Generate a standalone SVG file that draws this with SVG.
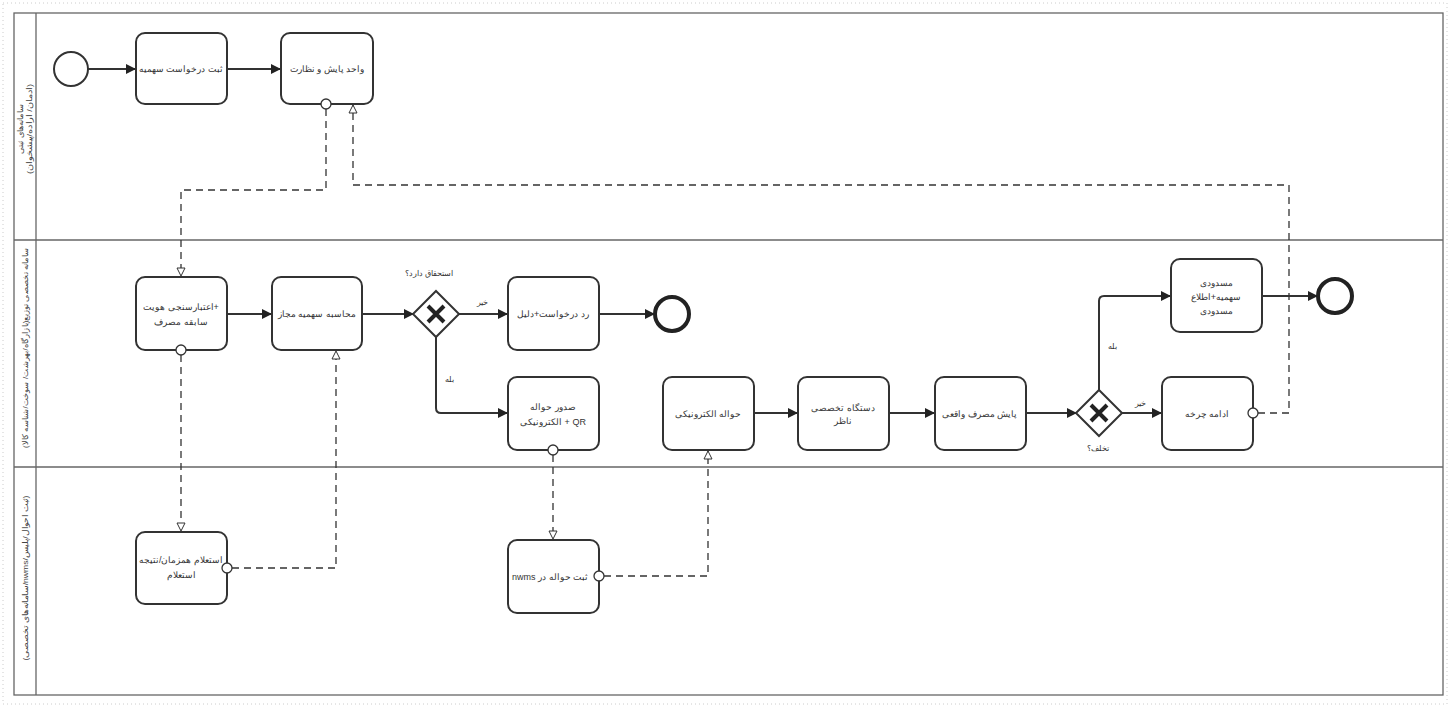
<svg xmlns="http://www.w3.org/2000/svg" width="1450" height="710" viewBox="0 0 1450 710">
<style>
.task{fill:#fff;stroke:#333;stroke-width:2}
.t{font-family:"Liberation Sans","Noto Sans",sans-serif;font-size:9px;fill:#333;text-anchor:middle;direction:rtl;unicode-bidi:embed}
.lbl{font-family:"Liberation Sans","Noto Sans",sans-serif;font-size:8px;fill:#333;text-anchor:middle;direction:rtl;unicode-bidi:embed}
.ln{font-family:"Liberation Sans","Noto Sans",sans-serif;font-size:7.5px;fill:#444;text-anchor:middle;direction:rtl;unicode-bidi:embed}
.flow{fill:none;stroke:#333;stroke-width:2}
.msg{fill:none;stroke:#333;stroke-width:1.3;stroke-dasharray:7 5}
.lane{fill:none;stroke:#666;stroke-width:1.3}
.dot{fill:#fff;stroke:#333;stroke-width:1.3}
</style>
<defs>
<marker id="ah" markerWidth="10" markerHeight="10" refX="9" refY="5" orient="auto" markerUnits="userSpaceOnUse"><path d="M0,0 L10,5 L0,10 z" fill="#222"/></marker>
<marker id="oh" markerWidth="10" markerHeight="10" refX="9" refY="5" orient="auto" markerUnits="userSpaceOnUse"><path d="M1,1 L9,5 L1,9 z" fill="#fff" stroke="#333" stroke-width="1"/></marker>
</defs>
<rect width="1450" height="710" fill="#fff"/>
<rect x="3" y="3" width="1444" height="701" fill="none" stroke="#ccc" stroke-width="1" stroke-dasharray="1 3"/>
<g id="lanes">
<rect class="lane" x="14" y="13" width="1429" height="682"/>
<line class="lane" x1="36" y1="13" x2="36" y2="695"/>
<line class="lane" x1="14" y1="240" x2="1443" y2="240"/>
<line class="lane" x1="14" y1="467" x2="1443" y2="467"/>
<text class="ln" transform="translate(23,129) rotate(-90)" textLength="50" lengthAdjust="spacingAndGlyphs">سامانه‌های ثبتی</text>
<text class="ln" transform="translate(32,129) rotate(-90)" textLength="90" lengthAdjust="spacingAndGlyphs">(ادمان/ اراده/پیشخوان)</text>
<text class="ln" transform="translate(28,348) rotate(-90)" textLength="200" lengthAdjust="spacingAndGlyphs">سامانه تخصصی توزیع(بازارگاه/بهرشت/ سوخت/شناسه کالا)</text>
<text class="ln" transform="translate(28,578) rotate(-90)" textLength="165" lengthAdjust="spacingAndGlyphs">(ثبت احوال/پلیس/nwms/سامانه‌های تخصصی)</text>
</g>
<g id="connectors">
<line class="flow" x1="88" y1="69" x2="135" y2="69" marker-end="url(#ah)"/>
<line class="flow" x1="227" y1="69" x2="280" y2="69" marker-end="url(#ah)"/>
<line class="flow" x1="227" y1="314" x2="271" y2="314" marker-end="url(#ah)"/>
<line class="flow" x1="362" y1="314" x2="413" y2="314" marker-end="url(#ah)"/>
<line class="flow" x1="459" y1="314" x2="507" y2="314" marker-end="url(#ah)"/>
<line class="flow" x1="599" y1="314" x2="654" y2="314" marker-end="url(#ah)"/>
<path class="flow" d="M436,337 V408 Q436,413 441,413 H507" marker-end="url(#ah)"/>
<line class="flow" x1="754" y1="413" x2="797" y2="413" marker-end="url(#ah)"/>
<line class="flow" x1="889" y1="413" x2="934" y2="413" marker-end="url(#ah)"/>
<line class="flow" x1="1026" y1="413" x2="1076" y2="413" marker-end="url(#ah)"/>
<line class="flow" x1="1122" y1="413" x2="1161" y2="413" marker-end="url(#ah)"/>
<path class="flow" d="M1099,390 V301 Q1099,296 1104,296 H1170" marker-end="url(#ah)"/>
<line class="flow" x1="1262" y1="296" x2="1317" y2="296" marker-end="url(#ah)"/>
<path class="msg" d="M326,109 V190 H181 V276" marker-end="url(#oh)"/>
<path class="msg" d="M181,355 V531" marker-end="url(#oh)"/>
<path class="msg" d="M232,568 H336 V351" marker-end="url(#oh)"/>
<path class="msg" d="M553,455 V539" marker-end="url(#oh)"/>
<path class="msg" d="M604,576 H708 V451" marker-end="url(#oh)"/>
<path class="msg" d="M1258,413 H1289 V185 H353 V105" marker-end="url(#oh)"/>
<text class="lbl" x="429" y="276">استحقاق دارد؟</text>
<text class="lbl" x="482" y="305">خیر</text>
<text class="lbl" x="449" y="382">بله</text>
<text class="lbl" x="1112" y="349">بله</text>
<text class="lbl" x="1140" y="406">خیر</text>
<text class="lbl" x="1098" y="451">تخلف؟</text>
</g>
<g id="start"><circle cx="71" cy="69" r="17" fill="#fff" stroke="#333" stroke-width="2"/></g>
<g id="t1"><rect class="task" x="136" y="33" width="91" height="71" rx="9"/><text class="t" x="181" y="72">ثبت درخواست سهمیه</text></g>
<g id="t2"><rect class="task" x="281" y="33" width="92" height="71" rx="9"/><text class="t" x="327" y="72">واحد پایش و نظارت</text><circle class="dot" cx="326" cy="104" r="5"/></g>
<g id="t3"><rect class="task" x="136" y="277" width="91" height="73" rx="9"/><text class="t" x="181" y="310">+اعتبارسنجی هویت</text><text class="t" x="181" y="325">سابقه مصرف</text><circle class="dot" cx="181" cy="350" r="5"/></g>
<g id="t4"><rect class="task" x="272" y="277" width="90" height="73" rx="9"/><text class="t" x="317" y="317">محاسبه سهمیه مجاز</text></g>
<g id="gw1"><path d="M436,291 L459,314 L436,337 L413,314 z" fill="#fff" stroke="#333" stroke-width="2"/><path d="M428,306 L444,322 M444,306 L428,322" stroke="#222" stroke-width="4"/></g>
<g id="t5"><rect class="task" x="508" y="277" width="91" height="73" rx="9"/><text class="t" x="553" y="317">رد درخواست+دلیل</text></g>
<g id="end1"><circle cx="672" cy="314" r="17" fill="#fff" stroke="#222" stroke-width="4"/></g>
<g id="t6"><rect class="task" x="508" y="377" width="91" height="73" rx="9"/><text class="t" x="553" y="410">صدور حواله</text><text class="t" x="553" y="425">QR + الکترونیکی</text><circle class="dot" cx="553" cy="450" r="5"/></g>
<g id="t7"><rect class="task" x="136" y="532" width="91" height="72" rx="9"/><text class="t" x="181" y="563">استعلام همزمان/نتیجه</text><text class="t" x="181" y="578">استعلام</text><circle class="dot" cx="227" cy="568" r="5"/></g>
<g id="t8"><rect class="task" x="508" y="540" width="91" height="73" rx="9"/><text class="t" x="550" y="580">ثبت حواله در nwms</text><circle class="dot" cx="599" cy="576" r="5"/></g>
<g id="t9"><rect class="task" x="663" y="377" width="91" height="73" rx="9"/><text class="t" x="708" y="417">حواله الکترونیکی</text></g>
<g id="t10"><rect class="task" x="798" y="377" width="91" height="73" rx="9"/><text class="t" x="843" y="411">دستگاه تخصصی</text><text class="t" x="843" y="424">ناظر</text></g>
<g id="t11"><rect class="task" x="935" y="377" width="91" height="73" rx="9"/><text class="t" x="980" y="417">پایش مصرف واقعی</text></g>
<g id="gw2"><path d="M1099,390 L1122,413 L1099,436 L1076,413 z" fill="#fff" stroke="#333" stroke-width="2"/><path d="M1091,405 L1107,421 M1107,405 L1091,421" stroke="#222" stroke-width="4"/></g>
<g id="t12"><rect class="task" x="1162" y="377" width="91" height="73" rx="9"/><text class="t" x="1207" y="417">ادامه چرخه</text><circle class="dot" cx="1253" cy="413" r="5"/></g>
<g id="t13"><rect class="task" x="1171" y="259" width="91" height="73" rx="9"/><text class="t" x="1216" y="286">مسدودی</text><text class="t" x="1216" y="300">سهمیه+اطلاع</text><text class="t" x="1216" y="314">مسدودی</text></g>
<g id="end2"><circle cx="1335" cy="296" r="17" fill="#fff" stroke="#222" stroke-width="4"/></g>
</svg>
